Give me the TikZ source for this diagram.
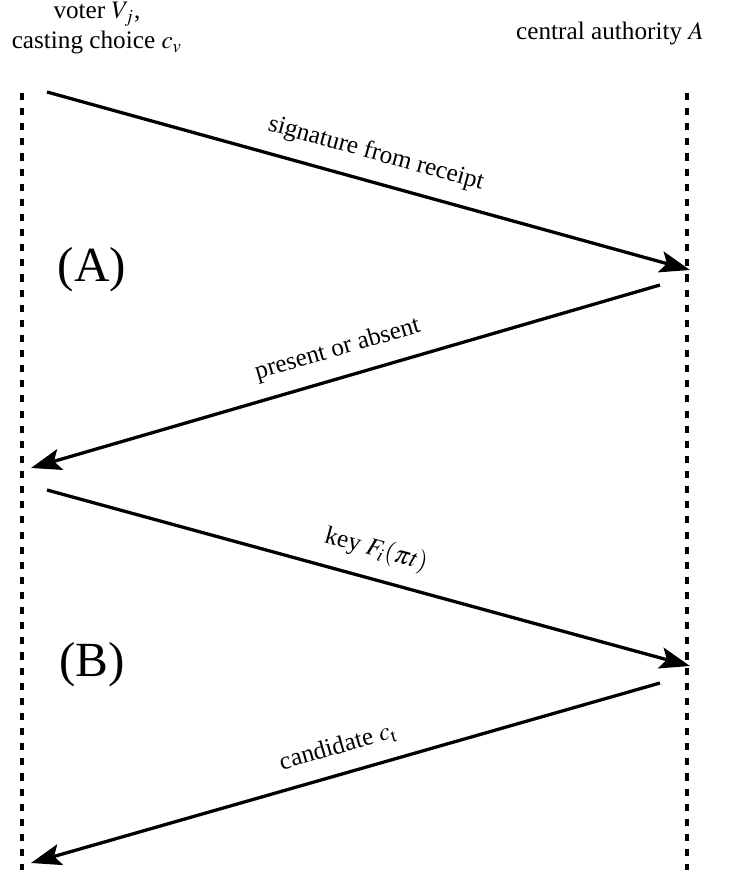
\documentclass[tikz,border=0pt]{standalone}
\usepackage{amsmath,amssymb}
\usepackage{mathptmx}
\usepackage{fontspec}
\setmainfont{Liberation Serif}
\usepackage{tikz}
\usetikzlibrary{arrows.meta,positioning}

\tikzset{
  lifeline/.style={line width=1.4pt,dash pattern=on 2.8pt off 3.2pt},
  msg/.style={line width=1.3pt,-{Stealth[length=12pt,width=8.5pt,inset=2.5pt]}},
  msglabel/.style={above=2.5pt,sloped,pos=0.5}
}

\begin{document}
\begin{tikzpicture}[x=0.01394cm,y=-0.01394cm]
    \useasboundingbox (0,0) rectangle (733,876);
    % parties
    \node[align=center] (voter) at (97,28) {voter $V_j$,\\ casting choice $c_v$};
    \node (auth) at (610,33) {central authority $A$};
    % lifelines
    \coordinate (vtop) at (22,93);
    \coordinate (vbot) at (22,870);
    \coordinate (atop) at (687,93);
    \coordinate (abot) at (687,870);
    \draw[lifeline] (vtop) -- (vbot);
    \draw[lifeline] (atop) -- (abot);
    % end points of the messages
    \coordinate (s1) at (47,92);
    \coordinate (e1) at (690,270);
    \coordinate (s2) at (660,285);
    \coordinate (e2) at (31,468);
    \coordinate (s3) at (47,490);
    \coordinate (e3) at (690,666);
    \coordinate (s4) at (660,683);
    \coordinate (e4) at (31,863);
    % messages
    \draw[msg] (s1) -- node[msglabel] (m1) {signature from receipt} (e1);
    \draw[msg] (s2) -- node[msglabel] (m2) {present or absent} (e2);
    \draw[msg] (s3) -- node[msglabel] (m3) {key $F_i(\pi t)$} (e3);
    \draw[msg] (s4) -- node[msglabel] (m4) {candidate $c_\mathrm{t}$} (e4);
    % phases
    \node[font=\fontsize{19.5}{23}\selectfont] (phA) at (92,270) {(A)};
    \node[font=\fontsize{19.5}{23}\selectfont] (phB) at (92,665) {(B)};
\end{tikzpicture}
\end{document}
